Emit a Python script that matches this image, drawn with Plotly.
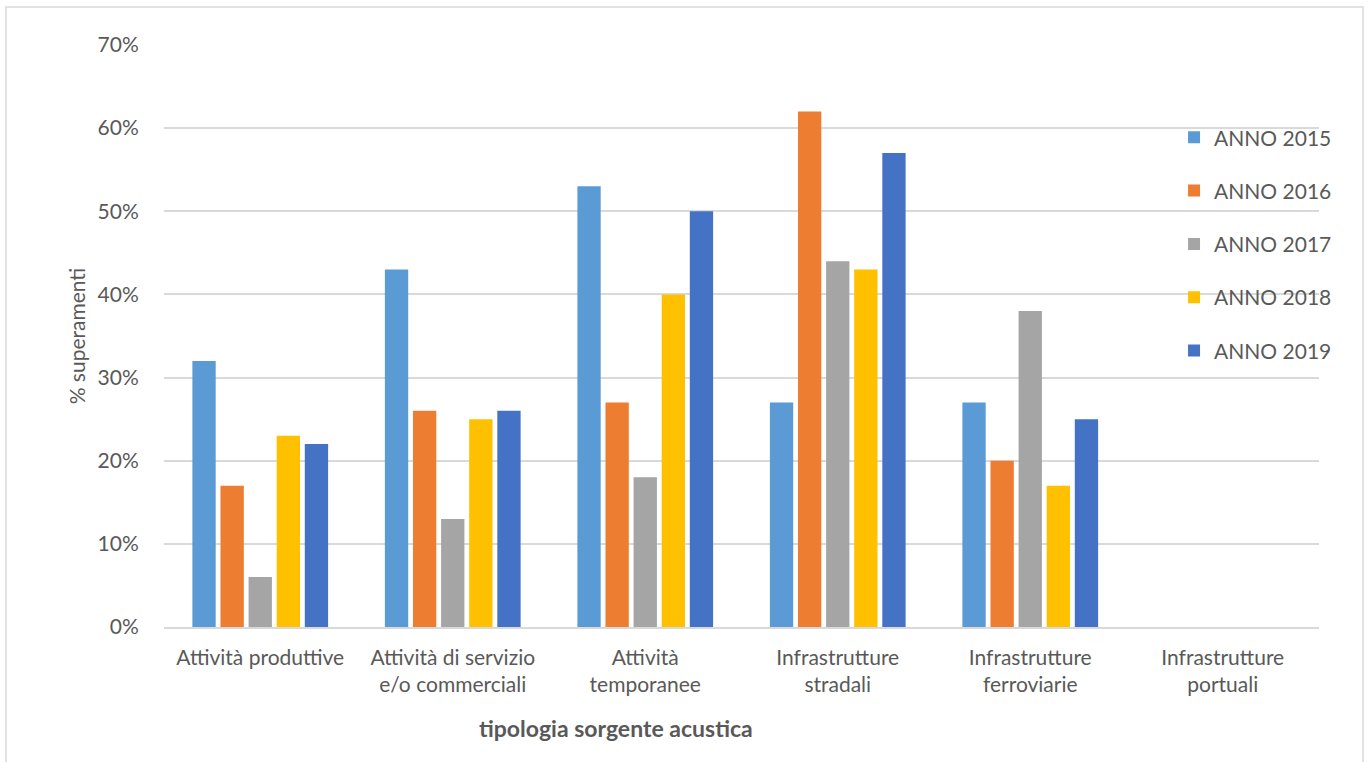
import plotly.graph_objects as go

categories = [
    "Attività produttive",
    "Attività di servizio<br>e/o commerciali",
    "Attività<br>temporanee",
    "Infrastrutture<br>stradali",
    "Infrastrutture<br>ferroviarie",
    "Infrastrutture<br>portuali",
]
anno_2015 = [32, 43, 53, 27, 27, None]
anno_2016 = [17, 26, 27, 62, 20, None]
anno_2017 = [6, 13, 18, 44, 38, None]
anno_2018 = [23, 25, 40, 43, 17, None]
anno_2019 = [22, 26, 50, 57, 25, None]

series_names = ["ANNO 2015", "ANNO 2016", "ANNO 2017", "ANNO 2018", "ANNO 2019"]
series_values = [anno_2015, anno_2016, anno_2017, anno_2018, anno_2019]
colors = ["#5B9BD5", "#ED7D31", "#A5A5A5", "#FFC000", "#4472C4"]

FONT = "Lato, 'Open Sans', sans-serif"
TXT = "#595959"

fig = go.Figure()
for name, vals, col in zip(series_names, series_values, colors):
    fig.add_trace(go.Bar(
        x=categories,
        y=[v / 100 if v is not None else None for v in vals],
        name=name,
        marker=dict(color=col, line=dict(width=0)),
        legendgroup=name,
    ))

fig.update_layout(
    width=1369,
    height=762,
    margin=dict(l=164, r=50, t=45, b=135),
    paper_bgcolor="white",
    plot_bgcolor="white",
    barmode="group",
    bargap=0.27,
    bargroupgap=0.17,
    font=dict(family=FONT, color=TXT, size=21),
    showlegend=True,
    legend=dict(
        x=0.8745, y=0.876, xanchor="left", yanchor="top",
        bgcolor="rgba(0,0,0,0)",
        font=dict(family=FONT, size=21, color=TXT),
        tracegroupgap=23,
        itemwidth=30,
    ),
    xaxis=dict(
        showgrid=False,
        showline=True,
        linecolor="#D9D9D9",
        linewidth=1.5,
        ticks="outside",
        ticklen=11,
        tickcolor="rgba(0,0,0,0)",
        tickfont=dict(family=FONT, size=21, color=TXT),
    ),
    yaxis=dict(
        range=[0, 0.70],
        tickvals=[0, 0.1, 0.2, 0.3, 0.4, 0.5, 0.6, 0.7],
        tickformat=".0%",
        showgrid=True,
        gridcolor="#D9D9D9",
        gridwidth=1.5,
        zeroline=False,
        showline=False,
        ticks="outside",
        ticklen=20,
        tickcolor="rgba(0,0,0,0)",
        tickfont=dict(family=FONT, size=21, color=TXT),
        title=dict(text="% superamenti", font=dict(family=FONT, size=21, color=TXT), standoff=6),
    ),
    shapes=[
        dict(type="rect", xref="paper", yref="paper",
             x0=-158 / 1155, x1=(1363 - 164) / 1155,
             y0=-0.5, y1=(627 - 7) / 582,
             line=dict(color="#D9D9D9", width=1.5), fillcolor="rgba(0,0,0,0)", layer="below"),
    ],
    annotations=[
        dict(text="<b>tipologia sorgente acustica</b>", xref="paper", yref="paper",
             x=(616 - 164) / 1155, y=-(728 - 627) / 582, xanchor="center", yanchor="middle",
             showarrow=False, font=dict(family=FONT, size=23, color=TXT)),
    ],
)

fig.write_html("out.html")
